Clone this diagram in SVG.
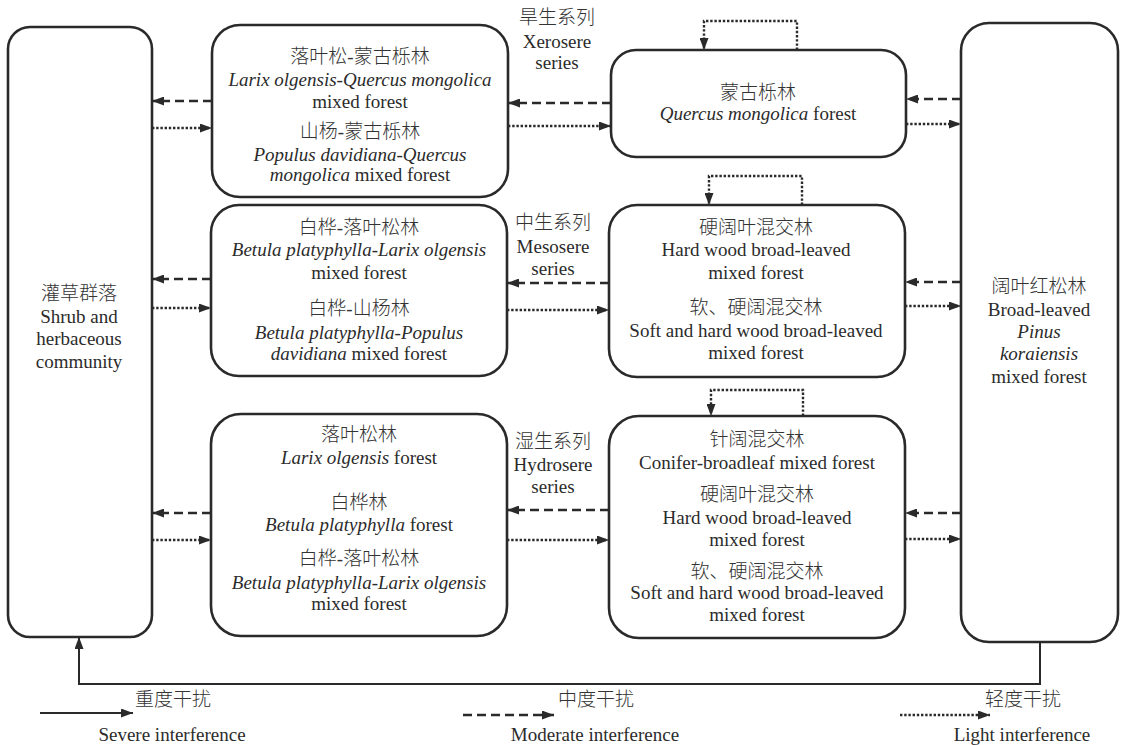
<svg xmlns="http://www.w3.org/2000/svg" width="1123" height="745" viewBox="0 0 1123 745">
<style>
.box{fill:#fff;stroke:#2a2a2a;stroke-width:2.6}
text{font-family:"Liberation Serif","Noto Sans CJK SC",serif;font-size:19px;fill:#2b2b2b;text-anchor:middle}
.cn{font-weight:300;fill:#333}
.it{font-style:italic}
.ln{fill:none;stroke:#2a2a2a;stroke-width:2.4}
.dash{stroke-dasharray:9 5}
.dot{stroke-dasharray:2.4 1.8}
.solid{stroke-width:2}
.lg{text-anchor:start}
</style>
<defs>
<marker id="ah" viewBox="0 0 12 9" refX="12" refY="4.5" markerWidth="12" markerHeight="9" markerUnits="userSpaceOnUse" orient="auto">
<path d="M0,0 L12,4.5 L0,9 z" fill="#2a2a2a"/>
</marker>
</defs>
<rect width="1123" height="745" fill="#fff"/>
<g id="connectors">
<path class="ln dash" d="M212,101 H152" marker-end="url(#ah)"/>
<path class="ln dot" d="M152,128 H212" marker-end="url(#ah)"/>
<path class="ln dash" d="M611,103 H508" marker-end="url(#ah)"/>
<path class="ln dot" d="M508,126 H611" marker-end="url(#ah)"/>
<path class="ln dash" d="M961,99 H906" marker-end="url(#ah)"/>
<path class="ln dot" d="M906,124 H961" marker-end="url(#ah)"/>
<path class="ln dash" d="M211,279 H152" marker-end="url(#ah)"/>
<path class="ln dot" d="M152,308 H211" marker-end="url(#ah)"/>
<path class="ln dash" d="M609,283 H507" marker-end="url(#ah)"/>
<path class="ln dot" d="M507,310 H609" marker-end="url(#ah)"/>
<path class="ln dash" d="M961,282 H905" marker-end="url(#ah)"/>
<path class="ln dot" d="M905,306 H961" marker-end="url(#ah)"/>
<path class="ln dash" d="M211,513 H152" marker-end="url(#ah)"/>
<path class="ln dot" d="M152,540 H211" marker-end="url(#ah)"/>
<path class="ln dash" d="M609,510 H507" marker-end="url(#ah)"/>
<path class="ln dot" d="M507,540 H609" marker-end="url(#ah)"/>
<path class="ln dash" d="M961,513 H905" marker-end="url(#ah)"/>
<path class="ln dot" d="M905,539 H961" marker-end="url(#ah)"/>
<path class="ln dot" d="M797,50 V21 H704 V50" marker-end="url(#ah)"/>
<path class="ln dot" d="M802,205 V176 H709 V205" marker-end="url(#ah)"/>
<path class="ln dot" d="M803,416 V390 H711 V416" marker-end="url(#ah)"/>
<path class="ln solid" d="M1040,642 V684 H79 V637" marker-end="url(#ah)"/>
</g>
<g id="shrub">
<rect class="box" x="8" y="27" width="144" height="610" rx="22"/>
<text x="79" y="300" class="cn">灌草群落</text>
<text x="79" y="323">Shrub and</text>
<text x="79" y="345">herbaceous</text>
<text x="79" y="368">community</text>
</g>
<g id="xero-mixed">
<rect class="box" x="212" y="25" width="296" height="172" rx="28"/>
<text x="360" y="63" class="cn">落叶松-蒙古栎林</text>
<text x="360" y="86" class="it">Larix olgensis-Quercus mongolica</text>
<text x="360" y="108">mixed forest</text>
<text x="360" y="138" class="cn">山杨-蒙古栎林</text>
<text x="360" y="161" class="it">Populus davidiana-Quercus</text>
<text x="360" y="181"><tspan class="it">mongolica</tspan> mixed forest</text>
</g>
<g id="quercus">
<rect class="box" x="611" y="50" width="295" height="107" rx="25"/>
<text x="758" y="99" class="cn">蒙古栎林</text>
<text x="758" y="120"><tspan class="it">Quercus mongolica</tspan> forest</text>
</g>
<g id="meso-mixed">
<rect class="box" x="211" y="205" width="296" height="171" rx="28"/>
<text x="359" y="234" class="cn">白桦-落叶松林</text>
<text x="359" y="256" class="it">Betula platyphylla-Larix olgensis</text>
<text x="359" y="279">mixed forest</text>
<text x="359" y="315" class="cn">白桦-山杨林</text>
<text x="359" y="339" class="it">Betula platyphylla-Populus</text>
<text x="359" y="360"><tspan class="it">davidiana</tspan> mixed forest</text>
</g>
<g id="hardwood">
<rect class="box" x="609" y="205" width="296" height="172" rx="28"/>
<text x="756" y="234" class="cn">硬阔叶混交林</text>
<text x="756" y="256">Hard wood broad-leaved</text>
<text x="756" y="279">mixed forest</text>
<text x="756" y="314" class="cn">软、硬阔混交林</text>
<text x="756" y="337">Soft and hard wood broad-leaved</text>
<text x="756" y="359">mixed forest</text>
</g>
<g id="hydro-mixed">
<rect class="box" x="211" y="414" width="296" height="222" rx="30"/>
<text x="359" y="441" class="cn">落叶松林</text>
<text x="359" y="464"><tspan class="it">Larix olgensis</tspan> forest</text>
<text x="359" y="509" class="cn">白桦林</text>
<text x="359" y="531"><tspan class="it">Betula platyphylla</tspan> forest</text>
<text x="359" y="565" class="cn">白桦-落叶松林</text>
<text x="359" y="589" class="it">Betula platyphylla-Larix olgensis</text>
<text x="359" y="610">mixed forest</text>
</g>
<g id="conifer">
<rect class="box" x="609" y="416" width="296" height="222" rx="30"/>
<text x="757" y="446" class="cn">针阔混交林</text>
<text x="757" y="469">Conifer-broadleaf mixed forest</text>
<text x="757" y="501" class="cn">硬阔叶混交林</text>
<text x="757" y="524">Hard wood broad-leaved</text>
<text x="757" y="546">mixed forest</text>
<text x="757" y="578" class="cn">软、硬阔混交林</text>
<text x="757" y="599">Soft and hard wood broad-leaved</text>
<text x="757" y="621">mixed forest</text>
</g>
<g id="pinus">
<rect class="box" x="961" y="23" width="157" height="619" rx="28"/>
<text x="1039" y="293" class="cn">阔叶红松林</text>
<text x="1039" y="316">Broad-leaved</text>
<text x="1039" y="338" class="it">Pinus</text>
<text x="1039" y="360" class="it">koraiensis</text>
<text x="1039" y="383">mixed forest</text>
</g>
<g id="series-labels">
<text x="557" y="24" class="cn">旱生系列</text>
<text x="557" y="48">Xerosere</text>
<text x="557" y="69">series</text>
<text x="553" y="229" class="cn">中生系列</text>
<text x="553" y="253">Mesosere</text>
<text x="553" y="275">series</text>
<text x="553" y="448" class="cn">湿生系列</text>
<text x="553" y="471">Hydrosere</text>
<text x="553" y="493">series</text>
</g>
<g id="legend">
<path class="ln solid" d="M40,713 H133" marker-end="url(#ah)"/>
<text x="135" y="706" class="lg cn">重度干扰</text>
<text x="172" y="741">Severe interference</text>
<path class="ln dash" d="M463,715 H554" marker-end="url(#ah)"/>
<text x="558" y="706" class="lg cn">中度干扰</text>
<text x="595" y="741">Moderate interference</text>
<path class="ln dot" d="M900,715 H990" marker-end="url(#ah)"/>
<text x="985" y="706" class="lg cn">轻度干扰</text>
<text x="1022" y="741">Light interference</text>
</g>
</svg>
